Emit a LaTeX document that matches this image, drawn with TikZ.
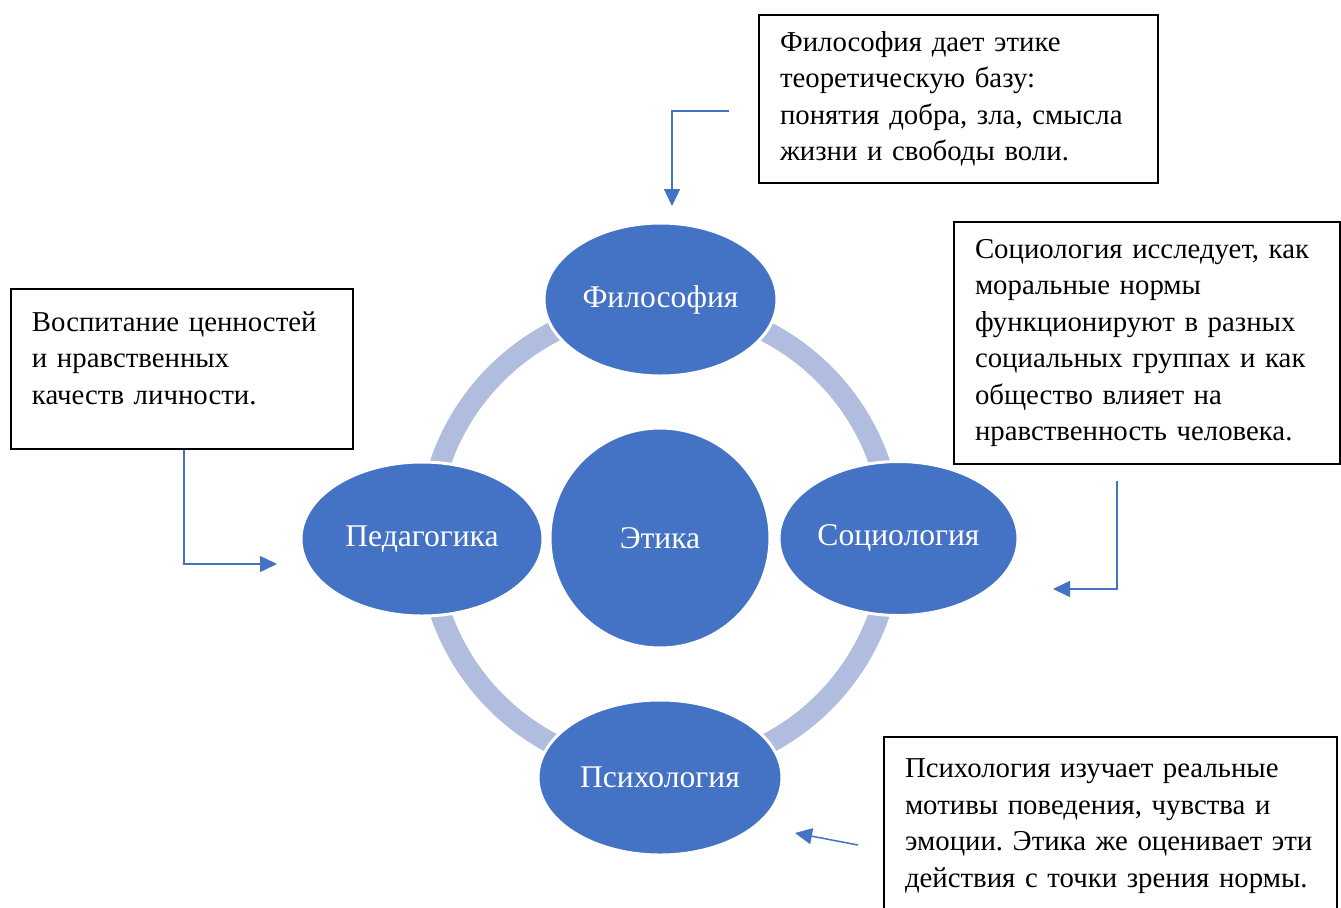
\documentclass[tikz,border=0pt]{standalone}
\usepackage{fontspec}
\setmainfont{Liberation Serif}
\usepackage{tikz}
\usetikzlibrary{arrows.meta, shapes.geometric, positioning}
\frenchspacing

\definecolor{nodeblue}{RGB}{68,114,196}
\definecolor{ringblue}{RGB}{176,189,223}

\tikzset{
	topic/.style={ellipse, fill=nodeblue, draw=white, line width=1.5pt, text=white, inner sep=0pt, font=\fontsize{15.8}{19}\selectfont},
	infobox/.style={rectangle, draw=black, line width=1pt, fill=white, align=left, inner xsep=10.5pt, inner ysep=0pt, font=\fontsize{14.4}{18.25}\selectfont},
	pointer/.style={draw=nodeblue, line width=0.75pt, -{Triangle[length=8.5pt,width=8pt]}}
}

\begin{document}
\begin{tikzpicture}[x=0.5pt, y=-0.5pt]
		\useasboundingbox (0,0) rectangle (1341,907);
		
		%//ring behind the topics
		\draw[ringblue, line width=10.5pt] (660,538) circle[radius=116pt];
		
		%//topics
		\node[topic, circle, minimum size=110pt] (ethics) at (660,538) {Этика};
		\node[topic, minimum width=116.5pt, minimum height=76.5pt] (phil) at (660.5,299.5) {Философия};
		\node[topic, minimum width=121pt, minimum height=77pt] (edu) at (422,539) {Педагогика};
		\node[topic, minimum width=119.5pt, minimum height=77pt] (soc) at (898.5,538.5) {Социология};
		\node[topic, minimum width=122pt, minimum height=77.5pt] (psy) at (660,777.5) {Психология};
		
		%//text boxes
		\node[infobox, minimum width=199.5pt, minimum height=84pt, text width=178.5pt] (philbox) at (958.5,99)
		{Философия дает этике\\ теоретическую базу:\\ понятия добра, зла, смысла\\ жизни и свободы воли.};
		\node[infobox, minimum width=193pt, minimum height=121pt, text width=172pt] (socbox) at (1147,343)
		{Социология исследует, как\\ моральные нормы\\ функционируют в разных\\ социальных группах и как\\ общество влияет на\\ нравственность человека.};
		\node[infobox, minimum width=171pt, minimum height=80pt, text width=150pt] (edubox) at (182,369)
		{Воспитание ценностей\\ и нравственных\\ качеств личности.\\[-7pt]\mbox{}};
		\node[infobox, minimum width=226.5pt, minimum height=89pt, text width=205.5pt] (psybox) at (1110.5,826)
		{Психология изучает реальные\\ мотивы поведения, чувства и\\ эмоции. Этика же оценивает эти\\ действия с точки зрения нормы.};
		
		%//pointers
		\coordinate (philtail) at (729,111);
		\coordinate (philtip) at (672,206);
		\draw[pointer] (philtail) -| (philtip);
		
		\coordinate (edutip) at (277,564);
		\draw[pointer] ([xshift=1pt]edubox.south) |- (edutip);
		
		\coordinate (soctail) at (1117,481);
		\coordinate (soctip) at (1053,589);
		\draw[pointer] (soctail) |- (soctip);
		
		\coordinate (psytail) at (858,845);
		\coordinate (psytip) at (795,833);
		\draw[pointer] (psytail) -- (psytip);
\end{tikzpicture}
\end{document}
